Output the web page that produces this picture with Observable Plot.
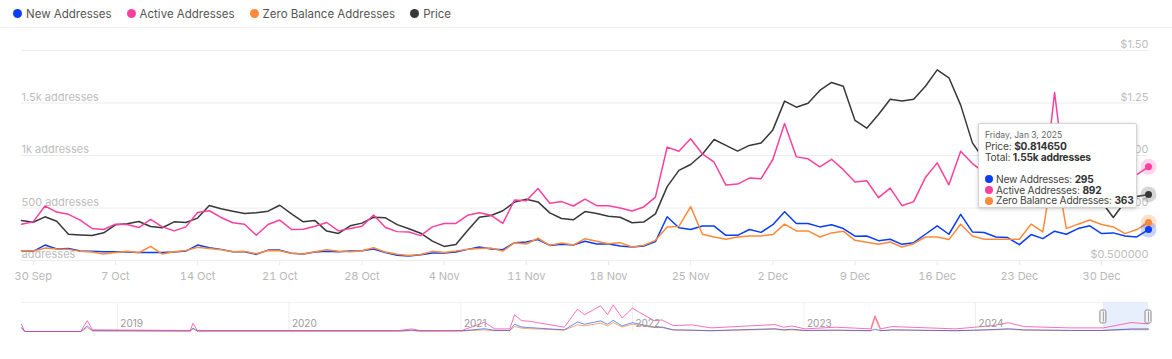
<!DOCTYPE html>
<html>
<head>
<meta charset="utf-8">
<script src="https://cdn.jsdelivr.net/npm/d3@7"></script>
<script src="https://cdn.jsdelivr.net/npm/@observablehq/plot@0.6"></script>
<style>
  html, body { margin: 0; padding: 0; background: #fff; }
  body { font-family: Inter, "Open Sans", sans-serif; width: 1172px; height: 359px; overflow: hidden; }
  #wrap { position: relative; width: 1172px; height: 359px; }
  #legend { height: 27px; border-bottom: 1px solid #eeeeee; display: flex; align-items: center; padding-left: 13px; font-size: 11.5px; color: #555; box-sizing: content-box; }
  #legend .it { display: flex; align-items: center; margin-right: 15px; }
  #legend .dot { width: 9px; height: 9px; border-radius: 50%; margin-right: 4px; }
  #main, #nav { display: block; }
  #tip { position: absolute; background: #fff; border: 1px solid #d4d4d4; border-radius: 2px; box-shadow: 0 1px 4px rgba(0,0,0,0.18); padding: 6px 6px 4px 6px; box-sizing: border-box; font-size: 10.2px; color: #444; line-height: 10.9px; white-space: nowrap; letter-spacing: -0.2px; }
  #tip .date { font-size: 8.5px; color: #666; letter-spacing: 0; }
  #tip b { color: #333; }
  #tip .d { display: inline-block; width: 8px; height: 8px; border-radius: 50%; margin-right: 3px; vertical-align: -0.5px; }
</style>
</head>
<body>
<div id="wrap">
  <div id="legend"></div>
  <div id="main"></div>
  <div id="nav"></div>
  <div id="tip"></div>
</div>
<script>
// ---------- data (daily, 29 Sep 2024 -> 3 Jan 2025) ----------
const startDate = "2024-09-29";
const endDate = "2025-01-03";
const price = [0.690,0.682,0.708,0.687,0.625,0.622,0.619,0.632,0.670,0.675,0.686,0.662,0.656,0.684,0.681,0.702,0.762,0.746,0.735,0.724,0.727,0.735,0.763,0.722,0.684,0.690,0.640,0.629,0.665,0.678,0.706,0.703,0.671,0.651,0.630,0.592,0.567,0.576,0.643,0.706,0.714,0.737,0.778,0.792,0.779,0.727,0.700,0.694,0.733,0.724,0.711,0.706,0.680,0.683,0.722,0.852,0.929,0.957,1.006,1.076,1.048,1.021,1.048,1.059,1.122,1.259,1.230,1.249,1.310,1.348,1.330,1.167,1.130,1.195,1.268,1.259,1.268,1.330,1.408,1.370,1.240,1.060,0.980,0.930,0.950,0.900,0.880,0.900,0.920,0.870,0.850,0.820,0.780,0.705,0.780,0.805,0.81465];
const activeAddresses = [346,368,519,461,440,385,305,295,346,343,314,391,320,282,320,458,474,410,359,346,240,343,385,295,298,327,362,282,305,327,433,314,275,272,237,320,353,353,430,455,430,353,577,570,686,545,561,519,584,522,522,500,471,510,603,1080,1041,1160,1015,936,718,728,785,779,962,1305,987,968,891,964,865,747,760,599,689,522,561,791,930,721,1041,923,840,790,720,690,650,600,1600,700,760,720,690,770,830,817,892];
const newAddresses = [93,87,147,109,115,90,87,83,83,80,77,77,77,80,90,147,122,106,83,83,58,99,99,70,61,80,87,83,90,93,109,77,50,42,54,71,71,80,106,128,109,103,170,176,199,144,154,147,183,157,157,138,128,138,180,417,312,295,328,328,240,240,295,268,341,465,353,353,320,340,304,231,234,189,202,154,170,250,330,250,439,272,266,224,218,151,247,208,279,250,304,330,256,263,234,224,295];
const zeroBalanceAddresses = [93,90,118,109,106,87,80,61,77,87,74,135,61,83,96,125,115,102,83,87,64,96,93,70,61,83,102,87,83,93,122,80,60,48,58,87,77,90,106,115,118,90,170,157,212,144,167,147,208,183,160,170,128,144,192,318,325,513,250,224,202,224,234,234,247,346,282,282,224,263,279,192,173,154,176,128,160,224,224,199,345,234,202,202,202,202,346,272,960,304,346,385,343,320,256,295,363];

// axis tick values / labels
const xTickDates = ["2024-09-30","2024-10-07","2024-10-14","2024-10-21","2024-10-28","2024-11-04","2024-11-11","2024-11-18","2024-11-25","2024-12-02","2024-12-09","2024-12-16","2024-12-23","2024-12-30"];
const leftTicks = [0, 500, 1000, 1500];
const leftLabels = ["addresses", "500 addresses", "1k addresses", "1.5k addresses"];
const priceTicks = [0.5, 0.75, 1.0, 1.25, 1.5];
const priceLabels = ["$0.500000", "$0.750000", "$1.00", "$1.25", "$1.50"];

// overview (navigator) series
const navDates = ["2018-06-11","2018-06-18","2018-10-15","2018-10-29","2018-11-09","2019-06-05","2019-06-11","2019-06-20","2020-08-24","2020-09-18","2020-10-05","2021-01-03","2021-02-20","2021-03-14","2021-04-15","2021-04-25","2021-05-10","2021-05-27","2021-08-09","2021-09-06","2021-09-21","2021-10-25","2021-11-09","2021-11-21","2021-12-10","2022-01-01","2022-01-16","2022-02-16","2022-03-05","2022-03-29","2022-05-08","2022-06-17","2022-10-31","2022-11-19","2022-12-06","2023-01-03","2023-03-10","2023-05-23","2023-06-01","2023-06-13","2023-07-07","2023-11-20","2023-12-30","2024-02-08","2024-03-11","2024-04-12","2024-07-19","2024-09-29","2024-11-27","2025-01-03"];
const navActive = [1240,0,0,1950,300,180,1475,180,180,470,180,180,1650,470,470,3000,1950,1830,770,4000,3000,4600,3000,4780,2420,4190,3420,1950,2065,1060,1180,650,1240,770,1000,470,770,470,2830,470,885,470,770,1060,1590,885,650,650,1600,1360];
const navNew = [700,0,0,1000,150,100,600,100,100,250,100,120,500,200,200,1300,800,700,300,1700,1300,1900,1300,2000,1000,1600,1300,800,800,300,250,150,500,300,400,200,250,150,400,150,300,150,250,350,500,300,200,200,450,420];
const navZero = [600,0,0,700,100,80,500,80,80,150,80,90,300,150,150,900,600,500,250,1200,1000,1500,1000,1600,800,1300,1100,700,700,250,200,120,400,250,300,150,200,120,2500,120,250,120,200,300,400,250,180,180,400,450];
const navYears = ["2019-01-01","2020-01-01","2021-01-01","2022-01-01","2023-01-01","2024-01-01"];

const seriesNames = ["New Addresses", "Active Addresses", "Zero Balance Addresses", "Price"];
const seriesColors = ["#0b3cf6", "#f9409f", "#fd8a3b", "#383838"];

// ---------- build ----------
const parse = d3.utcParse("%Y-%m-%d");
const dates = d3.utcDay.range(parse(startDate), d3.utcDay.offset(parse(endDate), 1));
const P0 = 0.5, P1 = 1.5, A1 = 2000;
const priceToY = p => (p - P0) / (P1 - P0) * A1;
const rows = dates.map((d, i) => ({
  date: d, price: price[i], priceY: priceToY(price[i]),
  active: activeAddresses[i], nw: newAddresses[i], zero: zeroBalanceAddresses[i]
}));
const last = rows[rows.length - 1];
const FONT = "Inter, 'Open Sans', sans-serif";

// legend
const legend = document.getElementById("legend");
seriesNames.forEach((n, i) => {
  const it = document.createElement("div"); it.className = "it";
  it.innerHTML = `<span class="dot" style="background:${seriesColors[i]}"></span><span>${n}</span>`;
  legend.appendChild(it);
});

const W = 1172;
const fmtDay = d3.utcFormat("%-d %b");
const main = Plot.plot({
  width: W, height: 270,
  marginLeft: 21, marginRight: 24, marginTop: 22, marginBottom: 38,
  style: { fontFamily: FONT, background: "transparent", overflow: "visible" },
  x: { type: "utc", domain: [dates[0], dates[dates.length - 1]] },
  y: { domain: [0, A1], axis: null },
  marks: [
    Plot.gridY([0, 500, 1000, 1500, 2000], { stroke: "#ececec", strokeOpacity: 1 }),
    Plot.axisX(xTickDates.map(parse), { tickSize: 5, tickPadding: 7, stroke: "#e8e8e8", fill: "#b8b8b8", fontSize: 11, tickFormat: fmtDay, label: null }),
    Plot.text(leftTicks, { y: d => d, text: (d, i) => leftLabels[i], frameAnchor: "left", textAnchor: "start", dy: -6, fill: "#bdbdbd", fontSize: 11 }),
    Plot.text(priceTicks, { y: d => priceToY(d), text: (d, i) => priceLabels[i], frameAnchor: "right", textAnchor: "end", dy: -6, fill: "#bdbdbd", fontSize: 11 }),
    Plot.line(rows, { x: "date", y: "priceY", stroke: seriesColors[3], strokeWidth: 1.5 }),
    Plot.line(rows, { x: "date", y: "active", stroke: seriesColors[1], strokeWidth: 1.5 }),
    Plot.line(rows, { x: "date", y: "nw", stroke: seriesColors[0], strokeWidth: 1.5 }),
    Plot.line(rows, { x: "date", y: "zero", stroke: seriesColors[2], strokeWidth: 1.5 }),
    // hovered points
    Plot.dot([last], { x: "date", y: "active", r: 8, fill: seriesColors[1], fillOpacity: 0.22 }),
    Plot.dot([last], { x: "date", y: "priceY", r: 8, fill: "#777", fillOpacity: 0.3 }),
    Plot.dot([last], { x: "date", y: "zero", r: 8, fill: seriesColors[2], fillOpacity: 0.25 }),
    Plot.dot([last], { x: "date", y: "nw", r: 8, fill: seriesColors[0], fillOpacity: 0.22 }),
    Plot.dot([last], { x: "date", y: "active", r: 3.5, fill: seriesColors[1] }),
    Plot.dot([last], { x: "date", y: "priceY", r: 3.5, fill: seriesColors[3] }),
    Plot.dot([last], { x: "date", y: "zero", r: 3.5, fill: seriesColors[2] }),
    Plot.dot([last], { x: "date", y: "nw", r: 3.5, fill: seriesColors[0] })
  ]
});
document.getElementById("main").appendChild(main);

// navigator
const navRows = navDates.map((d, i) => ({ date: parse(d), active: navActive[i], nw: navNew[i], zero: navZero[i] }));
const winStart = dates[0], winEnd = dates[dates.length - 1];
const nav = Plot.plot({
  width: W, height: 61,
  marginLeft: 21, marginRight: 24, marginTop: 4, marginBottom: 28,
  style: { fontFamily: FONT, background: "transparent", overflow: "visible" },
  x: { type: "utc", domain: [navRows[0].date, navRows[navRows.length - 1].date], axis: null },
  y: { domain: [0, 5200], axis: null },
  marks: [
    Plot.ruleY([5200], { stroke: "#efefef" }),
    Plot.ruleX(navYears.map(parse), { stroke: "#efefef" }),
    Plot.rect([0], { x1: () => winStart, x2: () => winEnd, y1: 0, y2: 5200, fill: "#dfe8fb", fillOpacity: 0.75 }),
    Plot.line(navRows, { x: "date", y: "zero", stroke: seriesColors[2], strokeWidth: 1, strokeOpacity: 0.75 }),
    Plot.line(navRows, { x: "date", y: "nw", stroke: seriesColors[0], strokeWidth: 1, strokeOpacity: 0.6 }),
    Plot.line(navRows, { x: "date", y: "active", stroke: seriesColors[1], strokeWidth: 1, strokeOpacity: 0.75 }),
    Plot.text(navYears.map(parse), { x: d => d, text: d => d3.utcFormat("%Y")(d), frameAnchor: "bottom", textAnchor: "start", dx: 3, dy: -5, fill: "#9a9a9a", fontSize: 10 }),
    Plot.rect([winStart, winEnd], { x1: d => d, x2: d => d, y1: 2600, y2: 2600, insetLeft: -3, insetRight: -3, insetTop: -6.5, insetBottom: -6.5, fill: "#f3f3f3", stroke: "#8a8a8a", rx: 1.5 }),
    Plot.ruleX([winStart, winEnd], { x: d => d, y1: 1700, y2: 3500, stroke: "#8a8a8a", strokeWidth: 0.8 })
  ]
});
document.getElementById("nav").appendChild(nav);

// tooltip (positioned from the x scale)
const xs = main.scale("x");
const tip = document.getElementById("tip");
const fmtFull = d3.utcFormat("%A, %b %-d, %Y");
const total = last.nw + last.active + last.zero;
tip.innerHTML =
  `<div class="date">${fmtFull(last.date)}</div>` +
  `<div>Price: <b>$${last.price.toFixed(6)}</b></div>` +
  `<div>Total: <b>${(total / 1000).toFixed(2)}k addresses</b></div>` +
  `<div>&nbsp;</div>` +
  `<div><span class="d" style="background:${seriesColors[0]}"></span>New Addresses: <b>${last.nw}</b></div>` +
  `<div><span class="d" style="background:${seriesColors[1]}"></span>Active Addresses: <b>${last.active}</b></div>` +
  `<div><span class="d" style="background:${seriesColors[2]}"></span>Zero Balance Addresses: <b>${last.zero}</b></div>`;
const tipW = 159, tipH = 85;
tip.style.width = tipW + "px";
tip.style.height = tipH + "px";
tip.style.left = (xs.apply(last.date) - 11 - tipW) + "px";
tip.style.top = "123px";
</script>
</body>
</html>
